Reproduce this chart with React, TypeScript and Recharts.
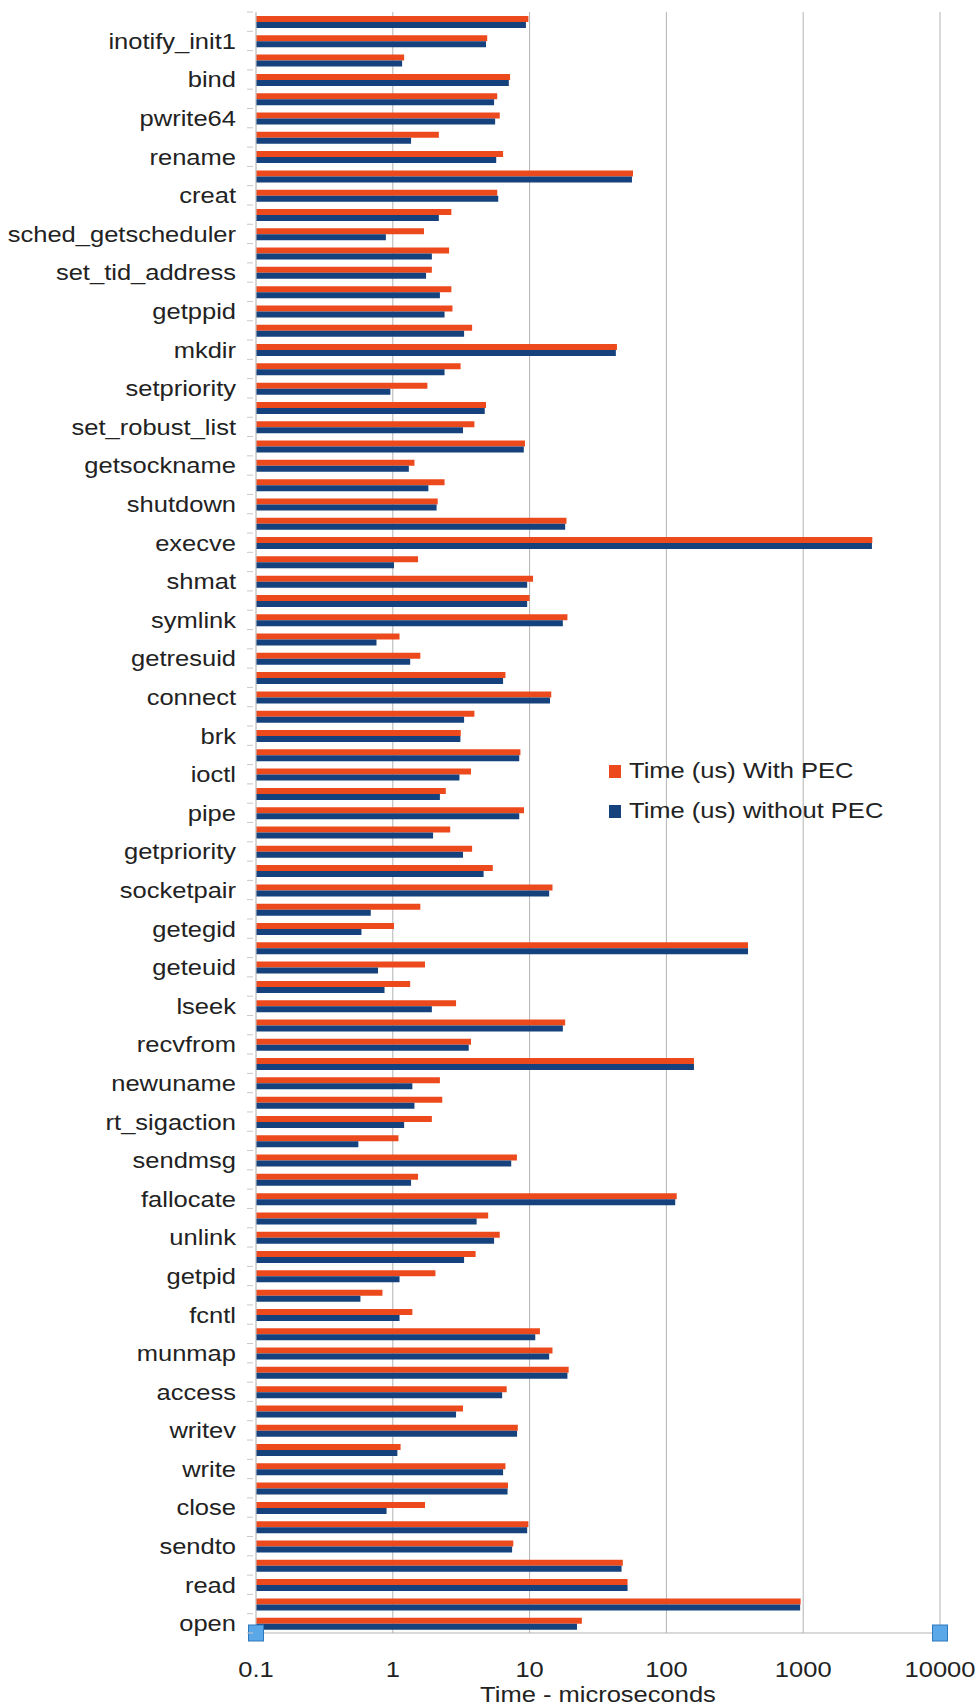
import { BarChart, Bar, XAxis, YAxis, CartesianGrid, Legend } from "recharts"

// Syscalls in axis order, top to bottom. The axis only names every other row,
// so these are the odd rows; the even rows stay unnamed.
const syscalls = [
  "inotify_init1", "bind", "pwrite64", "rename", "creat", "sched_getscheduler",
  "set_tid_address", "getppid", "mkdir", "setpriority", "set_robust_list",
  "getsockname", "shutdown", "execve", "shmat", "symlink", "getresuid",
  "connect", "brk", "ioctl", "pipe", "getpriority", "socketpair", "getegid",
  "geteuid", "lseek", "recvfrom", "newuname", "rt_sigaction", "sendmsg",
  "fallocate", "unlink", "getpid", "fcntl", "munmap", "access", "writev",
  "write", "close", "sendto", "read", "open",
]

// Time (us), one value per row, top row first
const withPec = [
  9.8, 4.9, 1.21, 7.2, 5.8, 6.05, 2.17, 6.4, 57, 5.8,
  2.68, 1.69, 2.58, 1.93, 2.68, 2.73, 3.8, 43.5, 3.13, 1.79,
  4.8, 3.95, 9.25, 1.44, 2.39, 2.13, 18.6, 3200, 1.53, 10.6,
  10.0, 18.9, 1.12, 1.59, 6.66, 14.4, 3.95, 3.14, 8.57, 3.73,
  2.44, 9.1, 2.63, 3.8, 5.38, 14.7, 1.59, 1.02, 395, 1.72,
  1.34, 2.9, 18.2, 3.73, 159, 2.21, 2.3, 1.93, 1.1, 8.08,
  1.53, 119, 4.98, 6.05, 4.03, 2.05, 0.84, 1.39, 11.9, 14.7,
  19.3, 6.8, 3.26, 8.2, 1.14, 6.66, 6.95, 1.72, 9.8, 7.6,
  48, 52, 958, 24.1,
]

const withoutPec = [
  9.4, 4.8, 1.17, 7.05, 5.5, 5.6, 1.36, 5.7, 56, 5.9,
  2.17, 0.89, 1.93, 1.75, 2.21, 2.39, 3.32, 42.7, 2.39, 0.96,
  4.7, 3.26, 9.07, 1.31, 1.82, 2.09, 18.2, 3180, 1.02, 9.6,
  9.6, 17.5, 0.76, 1.34, 6.4, 14.1, 3.32, 3.12, 8.4, 3.07,
  2.21, 8.4, 1.97, 3.26, 4.61, 13.9, 0.69, 0.59, 395, 0.78,
  0.87, 1.93, 17.5, 3.59, 159, 1.39, 1.44, 1.21, 0.56, 7.34,
  1.36, 116, 4.1, 5.5, 3.32, 1.12, 0.58, 1.12, 11.0, 13.9,
  18.9, 6.3, 2.9, 8.1, 1.08, 6.4, 6.9, 0.9, 9.6, 7.45,
  47, 52, 950, 22.2,
]

const timeTicks = [0.1, 1, 10, 100, 1000, 10000]

const data = withPec.map((v, i) => ({ row: i, withPec: v, withoutPec: withoutPec[i] }))

const WIDTH = 976
const HEIGHT = 1706
const MARGIN = { top: 12, right: 36, bottom: 0, left: 0 }
const X_AXIS_HEIGHT = 73
const Y_AXIS_WIDTH = 256
const ROW = (HEIGHT - MARGIN.top - MARGIN.bottom - X_AXIS_HEIGHT) / data.length

const FONT = "'Liberation Sans', Arial, sans-serif"
const TEXT = "#222222"
const GRID = "#b3b3b3"
const RED = "#ec4a1d"
const BLUE = "#15427c"
// the labels are a little wider than the plain font
const STRETCH = 1.16

function RowTick({ x, y, index }: any) {
  const name = index % 2 === 1 ? syscalls[(index - 1) / 2] : ""
  return (
    <g>
      <line x1={x - 9} x2={x - 3} y1={y + ROW / 2} y2={y + ROW / 2} stroke="#c8c8c8" />
      {index === 0 && <line x1={x - 9} x2={x - 3} y1={y - ROW / 2} y2={y - ROW / 2} stroke="#c8c8c8" />}
      {name && (
        <text
          transform={`translate(${x - 20},${y}) scale(${STRETCH},1)`}
          textAnchor="end"
          dy="0.36em"
          fontSize={22}
          fontFamily={FONT}
          fill={TEXT}
        >
          {name}
        </text>
      )}
    </g>
  )
}

function TimeTick({ x, y, payload, index }: any) {
  const edge = index === 0 || index === timeTicks.length - 1
  return (
    <g>
      {edge && <rect x={x - 7.5} y={y - 8} width={15} height={16} fill="#5aa8e8" stroke="#2f78c0" />}
      <text
        transform={`translate(${x},${y + 44}) scale(${STRETCH},1)`}
        textAnchor="middle"
        fontSize={22}
        fontFamily={FONT}
        fill={TEXT}
      >
        {payload.value}
      </text>
    </g>
  )
}

function AxisTitle({ viewBox }: any) {
  const cx = viewBox.x + viewBox.width / 2
  return (
    <text
      transform={`translate(${cx},${viewBox.y + viewBox.height - 4}) scale(${STRETCH},1)`}
      textAnchor="middle"
      fontSize={22}
      fontFamily={FONT}
      fill={TEXT}
    >
      Time - microseconds
    </text>
  )
}

function SeriesLegend({ payload }: any) {
  return (
    <div style={{ fontFamily: FONT, fontSize: 22, color: TEXT }}>
      {payload.map((item: any) => (
        <div key={item.value} style={{ display: "flex", alignItems: "center", height: 40 }}>
          <span style={{ display: "inline-block", width: 12, height: 13, background: item.color, marginRight: 8 }} />
          <span style={{ display: "inline-block", whiteSpace: "nowrap", transform: `scaleX(${STRETCH})`, transformOrigin: "left center" }}>
            {item.value}
          </span>
        </div>
      ))}
    </div>
  )
}

export default function App() {
  return (
    <div style={{ position: "absolute", left: 0, top: 0, width: WIDTH, height: HEIGHT, background: "#fff" }}>
      <BarChart
        width={WIDTH}
        height={HEIGHT}
        data={data}
        layout="vertical"
        margin={MARGIN}
        barSize={6}
        barGap={0}
      >
        <CartesianGrid horizontal={false} stroke={GRID} />
        <XAxis
          type="number"
          scale="log"
          domain={[0.1, 10000]}
          allowDataOverflow
          ticks={timeTicks}
          interval={0}
          height={X_AXIS_HEIGHT}
          tickSize={0}
          tickMargin={0}
          tick={<TimeTick />}
          axisLine={{ stroke: GRID }}
          label={<AxisTitle />}
        />
        <XAxis
          xAxisId="top"
          orientation="top"
          type="number"
          scale="log"
          domain={[0.1, 10000]}
          allowDataOverflow
          height={0}
          tick={false}
          tickLine={false}
          axisLine={{ stroke: GRID }}
        />
        <YAxis
          type="category"
          dataKey="row"
          width={Y_AXIS_WIDTH}
          interval={0}
          tickSize={0}
          tickMargin={0}
          tick={<RowTick />}
          axisLine={{ stroke: "#d0d0d0" }}
        />
        <Legend
          layout="vertical"
          align="center"
          verticalAlign="middle"
          wrapperStyle={{ left: 609, top: 751, width: "auto", height: "auto" }}
          content={<SeriesLegend />}
        />
        <Bar dataKey="withPec" name="Time (us) With PEC" fill={RED} isAnimationActive={false} />
        <Bar dataKey="withoutPec" name="Time (us) without PEC" fill={BLUE} isAnimationActive={false} />
      </BarChart>
    </div>
  )
}
